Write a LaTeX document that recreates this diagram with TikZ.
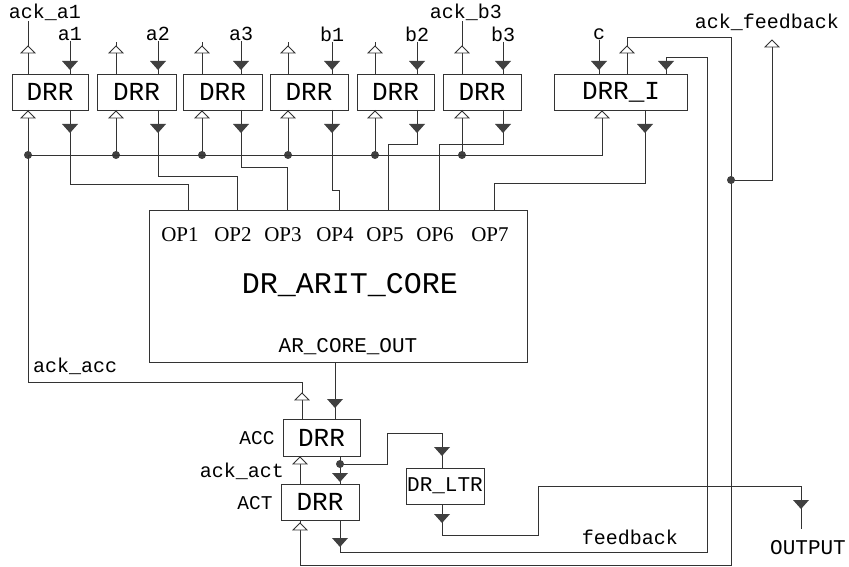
\documentclass[tikz,border=0pt]{standalone}
\usepackage{fontspec}
\setmainfont{Liberation Serif}
\newfontfamily\monof{Liberation Mono}
\usetikzlibrary{calc}
\newcommand\DTri[2]{\fill[tric] (#1-8,#2-9) -- (#1+8,#2-9) -- (#1,#2) -- cycle;}
\newcommand\UTri[2]{\filldraw[wire,fill=white] (#1,#2) -- (#1-7,#2+7) -- (#1+7,#2+7) -- cycle;}
\newcommand\JDot[1]{\fill[tric] (#1) circle[radius=4pt];}
\begin{document}
\begin{tikzpicture}[x=1pt,y=-1pt,
  wire/.style={draw=black!80,line width=0.8pt},
  tric/.style={black!75},
  drrbox/.style={draw=black!80,line width=0.8pt,minimum height=36pt,inner sep=0pt,font=\monof\fontsize{26}{26}\selectfont},
  lbl/.style={inner sep=0pt,font=\monof\fontsize{20}{20}\selectfont},
  opl/.style={inner sep=0pt,font=\fontsize{21}{21}\selectfont}]
\useasboundingbox (0,0) rectangle (849,567);

% core
\node[draw=black!80,line width=0.8pt,minimum width=378pt,minimum height=152pt,inner sep=0pt] (core) at (338,286) {};
\foreach \k/\x in {1/180,2/233,3/283,4/335,5/385,6/435,7/490}
  \node[opl] (opl\k) at (\x,235) {OP\k};
\node[inner sep=0pt,font=\monof\fontsize{30}{30}\selectfont] (coret) at (350,285) {DR\_ARIT\_CORE};
\node[inner sep=0pt,font=\monof\fontsize{21}{21}\selectfont] (coreo) at (348,347) {AR\_CORE\_OUT};
\coordinate (op7) at (494,210);

% top row of DRR registers
\foreach \n/\cx/\w/\A/\I/\lab/\ty/\op in {
 1/50/76/28/70/a1/184/188,
 2/136.5/79/116/158/a2/176/237,
 3/222.5/79/202/241/a3/167/287,
 4/309/78/288/332/b1/190/339,
 5/395.5/77/375/417/b2/144/388,
 6/482/78/462/503/b3/144/439}{
  \node[drrbox,minimum width=\w pt] (d\n) at (\cx,92) {DRR};
  \node[lbl] (in\n) at (\I,34) {\lab};
  \coordinate (op\n) at (\op,210);
  \draw[wire] (in\n.south) -- (\I,74);
  \DTri{\I}{70}
  \draw[wire] (\A,74) -- (\A,42);
  \UTri{\A}{46}
  \draw[wire] (\I,110) -- (\I,\ty) -- (\op,\ty) -- (op\n);
  \DTri{\I}{133}
  \draw[wire] (\A,110) -- (\A,155);
  \UTri{\A}{111}
  \JDot{\A,155}
}
\node[lbl] (ka1) at (45,12) {ack\_a1};
\draw[wire] (28,42) -- (ka1.south -| 28,0);
\node[lbl] (kb3) at (466,12) {ack\_b3};
\draw[wire] (462,42) -- (kb3.south -| 462,0);

% DRR_I
\node[drrbox,minimum width=133pt] (dI) at (621,92) {DRR\_I};
\node[lbl] (inc) at (599,34) {c};
\draw[wire] (inc.south) -- (599,74);
\DTri{599}{70}
\draw[wire] (28,155) -- (602,155) -- (602,110);
\UTri{602}{111}
\draw[wire] (645,110) -- (645,183) -- (494,183) -- (op7);
\DTri{645}{133}

% ACC / ACT
\node[drrbox,minimum width=77pt,minimum height=37pt] (acc) at (321.5,437.5) {DRR};
\node[drrbox,minimum width=78pt] (act) at (320,502) {DRR};
\node[lbl,font=\monof\fontsize{19.5}{19.5}\selectfont] (accl) at (257,438) {ACC};
\node[lbl,font=\monof\fontsize{19.5}{19.5}\selectfont] (actl) at (255,503) {ACT};
\node[lbl] (kact) at (242,471) {ack\_act};
\node[lbl,anchor=west] (kacc) at (33,366) {ack\_acc};

\draw[wire] (28,155) -- (28,382) -- (302,382) -- (302,419);
\UTri{302}{393}
\draw[wire] (335,362) -- (335,419);
\DTri{335}{408}
\draw[wire] (300,456) -- (300,484);
\UTri{300}{457}
\draw[wire] (340,456) -- (340,484);
\DTri{340}{482}
\draw[wire] (340,464) -- (387,464) -- (387,433) -- (442,433) -- (442,468);
\JDot{340,464}
\DTri{442}{456}

% DR_LTR and OUTPUT
\node[drrbox,minimum width=78pt,font=\monof\fontsize{21}{21}\selectfont] (ltr) at (445,486) {DR\_LTR};
\draw[wire] (442,504) -- (442,535) -- (538,535) -- (538,486) -- (801,486) -- (801,529);
\DTri{442}{523}
\DTri{801}{509}
\node[lbl,font=\monof\fontsize{21}{21}\selectfont] (outl) at (808,548) {OUTPUT};

% feedback loop
\draw[wire] (340,520) -- (340,552) -- (707,552) -- (707,57) -- (666,57) -- (666,74);
\DTri{340}{547}
\DTri{666}{70}
\node[lbl] (fbl) at (630,537) {feedback};

% acknowledge of feedback
\draw[wire] (627,74) -- (627,37) -- (731,37) -- (731,565) -- (300,565) -- (300,520);
\UTri{627}{46}
\UTri{300}{523}
\draw[wire] (731,180) -- (772,180) -- (772,40);
\JDot{731,180}
\UTri{772}{40}
\node[lbl] (kfb) at (767,22) {ack\_feedback};
\end{tikzpicture}
\end{document}
